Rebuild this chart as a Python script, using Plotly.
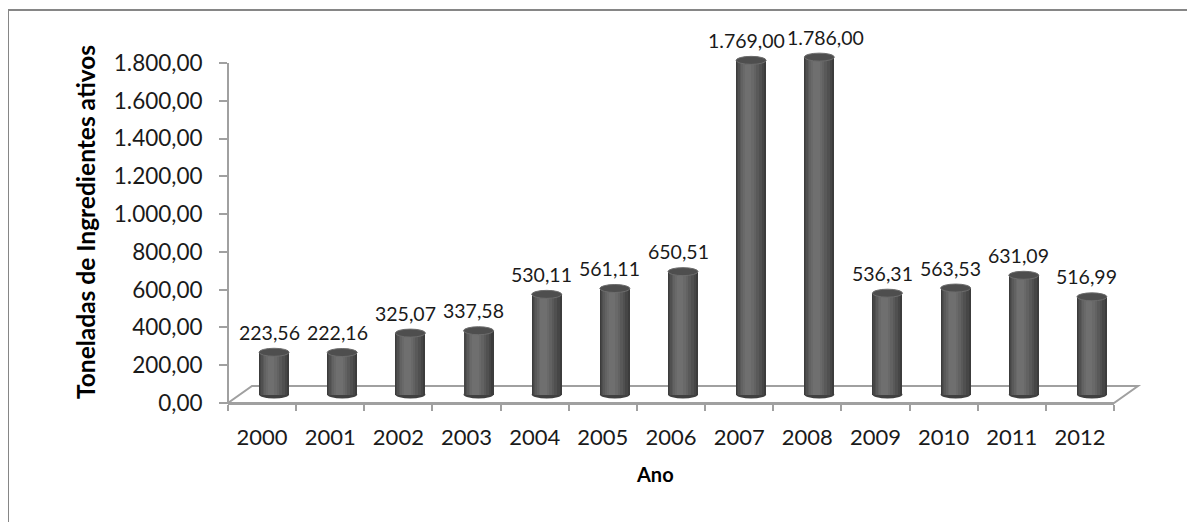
import plotly.graph_objects as go

# ---- data ----
years = ["2000", "2001", "2002", "2003", "2004", "2005", "2006",
         "2007", "2008", "2009", "2010", "2011", "2012"]
values = [223.56, 222.16, 325.07, 337.58, 530.11, 561.11, 650.51,
          1769.00, 1786.00, 536.31, 563.53, 631.09, 516.99]
labels = ["223,56", "222,16", "325,07", "337,58", "530,11", "561,11", "650,51",
          "1.769,00", "1.786,00", "536,31", "563,53", "631,09", "516,99"]
y_ticks = [0, 200, 400, 600, 800, 1000, 1200, 1400, 1600, 1800]

# ---- geometry (page pixels; the page body has an 8px margin) ----
OFF = 8
W, H = 1195, 522
L, R, T, B = 228 - OFF, 1195 - (1114 - OFF), 25 - OFF, 522 - (403 - OFF)
PW, PH = W - L - R, H - T - B
X0PIX, Y0PIX = 228, 403           # front axis origin (page px)
PX_PER_UNIT = 340 / 1800.0
DEPTH_X, DEPTH_Y = 24, 17          # floor depth offset
n = len(years)
UNIT_PER_PX_X = n / PW
CAT_PX = PW / n

def px2x(px):
    return (px - OFF - L) / PW

def px2y(py):
    return (H - B - (py - OFF)) / PH

y_lo = 0.0
y_hi = PH / PX_PER_UNIT
shift_y = (DEPTH_Y / 2) / PX_PER_UNIT
shift_x = (DEPTH_X / 2) * UNIT_PER_PX_X

BAR_W = 30 * UNIT_PER_PX_X
CAP_H = 8 / PX_PER_UNIT

font_main = "Lato, sans-serif"
txt_col = "#1a1a1a"
axis_col = "#a0a0a0"
LABEL_SIZE = 19.5

fig = go.Figure()

# invisible trace so the visible front axes are drawn
fig.add_trace(go.Scatter(x=years, y=values, mode="markers",
                         marker=dict(opacity=0), hoverinfo="skip", showlegend=False))

# cylinder shading layers (relative width, centre offset, colour)
layers = [(1.00, 0.00, "#3c3c3c"), (0.90, -0.02, "#464646"), (0.78, -0.04, "#505050"),
          (0.64, -0.06, "#595959"), (0.50, -0.08, "#626262"), (0.36, -0.09, "#696969"),
          (0.22, -0.10, "#6f6f6f")]
for rw, off, col in layers:
    w = BAR_W * rw
    fig.add_trace(go.Bar(
        x=years, y=values, xaxis="x2", yaxis="y2",
        width=w, offset=off * BAR_W - w / 2,
        marker=dict(color=col, line=dict(width=0)),
        hoverinfo="skip", showlegend=False))

shapes = []
# outer chart border
shapes.append(dict(type="rect", xref="paper", yref="paper",
                   x0=px2x(8), x1=px2x(1210), y0=px2y(10), y1=px2y(540),
                   line=dict(color="#868686", width=2), fillcolor="rgba(0,0,0,0)",
                   layer="below"))
# floor
fx0, fx1 = X0PIX, X0PIX + PW
path = "M {} {} L {} {} L {} {} L {} {} Z".format(
    px2x(fx0), px2y(Y0PIX), px2x(fx1), px2y(Y0PIX),
    px2x(fx1 + DEPTH_X), px2y(Y0PIX - DEPTH_Y), px2x(fx0 + DEPTH_X), px2y(Y0PIX - DEPTH_Y))
shapes.append(dict(type="path", xref="paper", yref="paper", path=path,
                   fillcolor="white", line=dict(color=axis_col, width=2), layer="below"))
# vertical axis line
shapes.append(dict(type="line", xref="paper", yref="paper",
                   x0=px2x(X0PIX), x1=px2x(X0PIX),
                   y0=px2y(Y0PIX), y1=px2y(Y0PIX - 1800 * PX_PER_UNIT),
                   line=dict(color=axis_col, width=2), layer="below"))
# cylinder bottoms and caps
for i, v in enumerate(values):
    shapes.append(dict(type="circle", xref="x2", yref="y2",
                       x0=i - BAR_W / 2, x1=i + BAR_W / 2,
                       y0=-CAP_H / 2, y1=CAP_H / 2,
                       fillcolor="#404040", line=dict(width=0), layer="below"))
    shapes.append(dict(type="circle", xref="x2", yref="y2",
                       x0=i - BAR_W / 2, x1=i + BAR_W / 2,
                       y0=v - CAP_H / 2, y1=v + CAP_H / 2,
                       fillcolor="#4e4e4e", line=dict(color="#6c6c6c", width=1),
                       layer="above"))

# data labels, nudging right any label that would collide with its left neighbour
def est_width(s, size):
    return sum(0.23 if ch in ".," else 0.58 for ch in s) * size

annotations = []
prev_right = None
prev_top = None
for i, (v, lab) in enumerate(zip(values, labels)):
    cx = i * CAT_PX - 5
    wpx = est_width(lab, LABEL_SIZE)
    top = v * PX_PER_UNIT
    dx = -5
    if prev_right is not None and abs(top - prev_top) < 24:
        left = cx - wpx / 2
        if left < prev_right + 3:
            dx += prev_right + 3 - left
    prev_right = i * CAT_PX + dx + wpx / 2
    prev_top = top
    annotations.append(dict(x=i, y=v, xref="x2", yref="y2", text=lab,
                            showarrow=False, xshift=dx, yshift=20,
                            xanchor="center", yanchor="middle",
                            font=dict(family=font_main, size=LABEL_SIZE, color=txt_col)))
annotations.append(dict(x=px2x(85), y=px2y(222), xref="paper", yref="paper",
                        xanchor="center", yanchor="middle",
                        text="<b>Toneladas de Ingredientes ativos</b>", textangle=-90,
                        showarrow=False,
                        font=dict(family=font_main, size=24.5, color="#000000")))
annotations.append(dict(x=px2x(655), y=px2y(474), xref="paper", yref="paper",
                        xanchor="center", yanchor="middle",
                        text="<b>Ano</b>", showarrow=False,
                        font=dict(family=font_main, size=20, color="#000000")))

fig.update_layout(
    width=W, height=H,
    margin=dict(l=L, r=R, t=T, b=B, pad=0, autoexpand=False),
    paper_bgcolor="white", plot_bgcolor="rgba(0,0,0,0)",
    barmode="overlay", bargap=0,
    showlegend=False,
    separators=",.",
    shapes=shapes, annotations=annotations,
    xaxis=dict(type="category", categoryorder="array", categoryarray=years,
               range=[-0.5, n - 0.5],
               showline=True, linecolor=axis_col, linewidth=2,
               ticks="outside", tickson="boundaries", ticklen=6, tickwidth=2,
               tickcolor=axis_col, showgrid=False, zeroline=False,
               ticklabelstandoff=14,
               tickfont=dict(family=font_main, size=22, color=txt_col)),
    yaxis=dict(range=[y_lo, y_hi], tickmode="array", tickvals=y_ticks,
               tickformat=",.2f",
               showline=False, showgrid=False, zeroline=False,
               ticks="outside", ticklen=8, tickwidth=2, tickcolor=axis_col,
               ticklabelstandoff=12,
               tickfont=dict(family=font_main, size=22.5, color=txt_col)),
    xaxis2=dict(type="category", categoryorder="array", categoryarray=years,
                range=[-0.5 - shift_x, n - 0.5 - shift_x], overlaying="x",
                anchor="y2", showticklabels=False, showline=False, showgrid=False,
                zeroline=False, ticks=""),
    yaxis2=dict(range=[y_lo - shift_y, y_hi - shift_y], overlaying="y",
                anchor="x2", showticklabels=False, showline=False, showgrid=False,
                zeroline=False, ticks=""),
)

fig.write_html("out.html", config={"displayModeBar": False})
